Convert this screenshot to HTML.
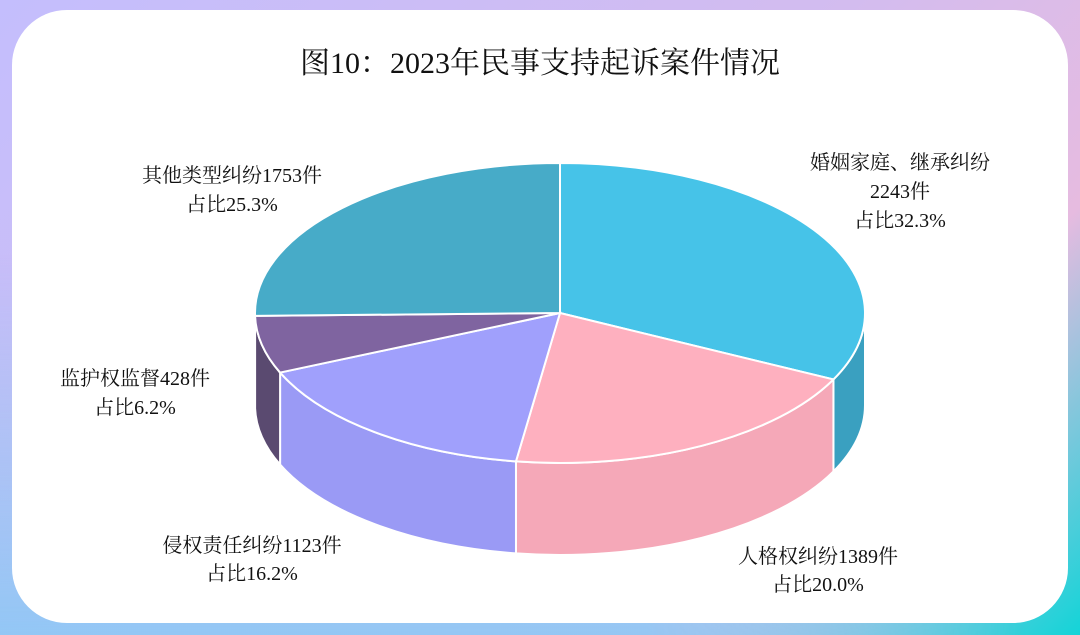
<!DOCTYPE html>
<html><head><meta charset="utf-8"><style>
html,body{margin:0;padding:0;}
body{width:1080px;height:635px;overflow:hidden;position:relative;
background:linear-gradient(135deg,#c4befd 0%,#d3bcef 50%,#e6bbe0 75%,#13d4d8 100%);}
.bg2{position:absolute;inset:0;background:linear-gradient(to bottom,rgba(0,0,0,0) 40%,rgba(140,200,245,0.9) 100%);
-webkit-mask:linear-gradient(to right,#000 0%,#000 60%,transparent 95%);}
.card{position:absolute;left:12px;top:10px;width:1056px;height:613px;background:#fff;border-radius:55px;}
svg{position:absolute;left:0;top:0;}
text{font-family:"Liberation Serif","Noto Serif CJK SC",serif;fill:#111;}
</style></head><body>
<div class="bg2"></div>
<div class="card"></div>
<svg width="1080" height="635" id="s">
<text x="540" y="73" font-size="30" text-anchor="middle">图10：2023年民事支持起诉案件情况</text>
<g font-size="20" text-anchor="middle">
<text x="232" y="182">其他类型纠纷1753件</text><text x="232" y="211">占比25.3%</text>
<text x="900" y="169">婚姻家庭、继承纠纷</text><text x="900" y="198">2243件</text><text x="900" y="227">占比32.3%</text>
<text x="135" y="385">监护权监督428件</text><text x="135" y="414">占比6.2%</text>
<text x="252" y="552">侵权责任纠纷1123件</text><text x="252" y="580">占比16.2%</text>
<text x="818" y="563">人格权纠纷1389件</text><text x="818" y="591">占比20.0%</text>
</g>
<g id="pie"></g>
</svg>
<script>
var cx=560,cy=313,rx=305,ry=150,d=92;
var sl=[[0,116.3,'#46c3e8','#3aa0c0'],[116.3,188.3,'#feb0bf','#f5a8b8'],[188.3,246.6,'#a0a0fc','#9a9af5'],[246.6,268.9,'#7f64a0','#5a4a70'],[268.9,360,'#47abc8','#3a8ea8']];
function P(a,o){a=a*Math.PI/180;return [cx+rx*Math.sin(a),cy-ry*Math.cos(a)+(o||0)];}
var h='';
sl.forEach(function(s){var a1=Math.max(s[0],90),a2=Math.min(s[1],270);if(a2<=a1)return;
var p1=P(a1),p2=P(a2),q2=P(a2,d),q1=P(a1,d);
h+='<path d="M'+p1+' A'+rx+' '+ry+' 0 0 1 '+p2+' L'+q2+' A'+rx+' '+ry+' 0 0 0 '+q1+' Z" fill="'+s[3]+'" stroke="#fff" stroke-width="2"/>';});
sl.forEach(function(s){var p1=P(s[0]),p2=P(s[1]),lg=(s[1]-s[0])>180?1:0;
h+='<path d="M'+cx+','+cy+' L'+p1+' A'+rx+' '+ry+' 0 '+lg+' 1 '+p2+' Z" fill="'+s[2]+'" stroke="#fff" stroke-width="2"/>';});
document.getElementById('pie').innerHTML=h;
</script>
</body></html>
